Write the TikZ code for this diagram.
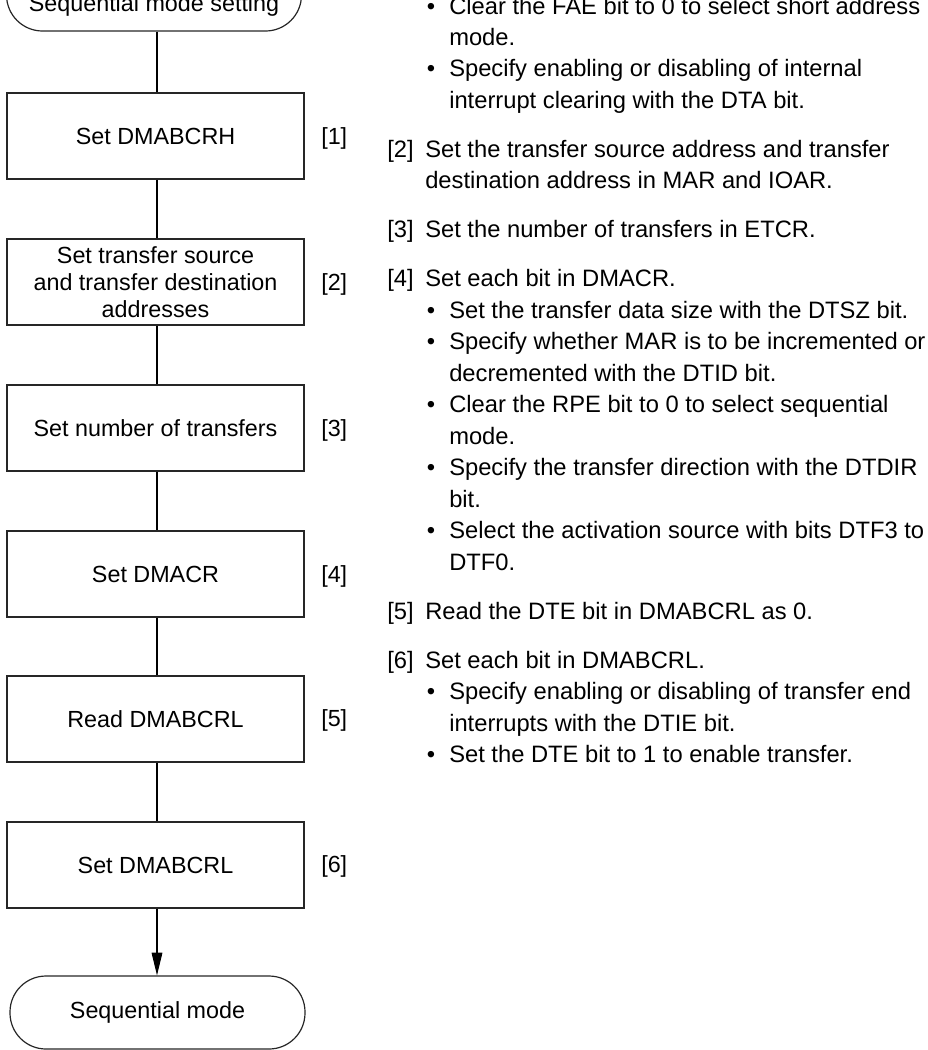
\documentclass[tikz,border=0pt]{standalone}
\usepackage{fontspec}
\setmainfont{Liberation Sans}
\usetikzlibrary{arrows.meta}
\newcommand\txtline[4]{\node[rt] (#1) at (#2,#3) {#4};}
\begin{document}
\begin{tikzpicture}[x=0.75pt,y=-0.75pt,
  font=\fontsize{17.5pt}{20pt}\selectfont,
  stepbox/.style={draw=black!85,line width=0.9pt,rectangle,minimum width=222.75pt,minimum height=64.5pt,inner sep=0pt,align=center},
  term/.style={draw=black!85,line width=0.9pt,rectangle,rounded corners=27pt,minimum width=221.25pt,minimum height=54.75pt,inner sep=0pt,align=center},
  conn/.style={line width=0.8pt,black},
  rt/.style={anchor=base west,inner sep=0pt,font=\fontsize{17.8pt}{20pt}\selectfont},
  bul/.style={anchor=base,inner sep=0pt,font=\fontsize{17.8pt}{20pt}\selectfont},
  tag/.style={anchor=west,inner sep=0pt}]
\useasboundingbox (0,0) rectangle (928,1050);
% flowchart
\node[term,text height=29pt,text depth=3.7pt] (start) at (154,-5.5) {Sequential mode setting};
\node[stepbox] (s1) at (155.5,136) {Set DMABCRH};
\node[stepbox] (s2) at (155.5,282) {Set transfer source\\and transfer destination\\addresses};
\node[stepbox] (s3) at (155.5,428) {Set number of transfers};
\node[stepbox] (s4) at (155.5,574) {Set DMACR};
\node[stepbox] (s5) at (155.5,719) {Read DMABCRL};
\node[stepbox] (s6) at (155.5,865) {Set DMABCRL};
\node[term] (stop) at (157.5,1012.5) {Sequential mode};
\draw[conn] (start.south -| 157,0) -- (s1.north -| 157,0);
\draw[conn] (s1.south -| 157,0) -- (s2.north -| 157,0);
\draw[conn] (s2.south -| 157,0) -- (s3.north -| 157,0);
\draw[conn] (s3.south -| 157,0) -- (s4.north -| 157,0);
\draw[conn] (s4.south -| 157,0) -- (s5.north -| 157,0);
\draw[conn] (s5.south -| 157,0) -- (s6.north -| 157,0);
\draw[conn,-{Triangle[length=17pt,width=8pt]}] (s6.south -| 157,0) -- (stop.north -| 157,0);
% tags
\node[tag] (g1) at (321,138) {[1]};
\node[tag] (g2) at (321,284) {[2]};
\node[tag] (g3) at (321,430) {[3]};
\node[tag] (g4) at (321,576) {[4]};
\node[tag] (g5) at (321,720) {[5]};
\node[tag] (g6) at (321,866) {[6]};
% notes
\node[bul] (u1) at (431,14) {•};
\txtline{t1}{449}{14}{Clear the FAE bit to 0 to select short address}
\txtline{t2}{449}{45}{mode.}
\node[bul] (u3) at (431,76.5) {•};
\txtline{t3}{449}{76.5}{Specify enabling or disabling of internal}
\txtline{t4}{449}{108}{interrupt clearing with the DTA bit.}
\txtline{n2}{387}{157}{[2]}
\txtline{t5}{425}{157}{Set the transfer source address and transfer}
\txtline{t6}{425}{188.5}{destination address in MAR and IOAR.}
\txtline{n3}{387}{237.5}{[3]}
\txtline{t7}{425}{237.5}{Set the number of transfers in ETCR.}
\txtline{n4}{387}{286.5}{[4]}
\txtline{t8}{425}{286.5}{Set each bit in DMACR.}
\node[bul] (u9) at (431,318) {•};
\txtline{t9}{449}{318}{Set the transfer data size with the DTSZ bit.}
\node[bul] (u10) at (431,349.5) {•};
\txtline{t10}{449}{349.5}{Specify whether MAR is to be incremented or}
\txtline{t11}{449}{381}{decremented with the DTID bit.}
\node[bul] (u12) at (431,412.5) {•};
\txtline{t12}{449}{412.5}{Clear the RPE bit to 0 to select sequential}
\txtline{t13}{449}{444}{mode.}
\node[bul] (u14) at (431,475.5) {•};
\txtline{t14}{449}{475.5}{Specify the transfer direction with the DTDIR}
\txtline{t15}{449}{507}{bit.}
\node[bul] (u16) at (431,538.5) {•};
\txtline{t16}{449}{538.5}{Select the activation source with bits DTF3 to}
\txtline{t17}{449}{570}{DTF0.}
\txtline{n5}{387}{619}{[5]}
\txtline{t18}{425}{619}{Read the DTE bit in DMABCRL as 0.}
\txtline{n6}{387}{668}{[6]}
\txtline{t19}{425}{668}{Set each bit in DMABCRL.}
\node[bul] (u20) at (431,699.5) {•};
\txtline{t20}{449}{699.5}{Specify enabling or disabling of transfer end}
\txtline{t21}{449}{731}{interrupts with the DTIE bit.}
\node[bul] (u22) at (431,762.5) {•};
\txtline{t22}{449}{762.5}{Set the DTE bit to 1 to enable transfer.}
\end{tikzpicture}
\end{document}
